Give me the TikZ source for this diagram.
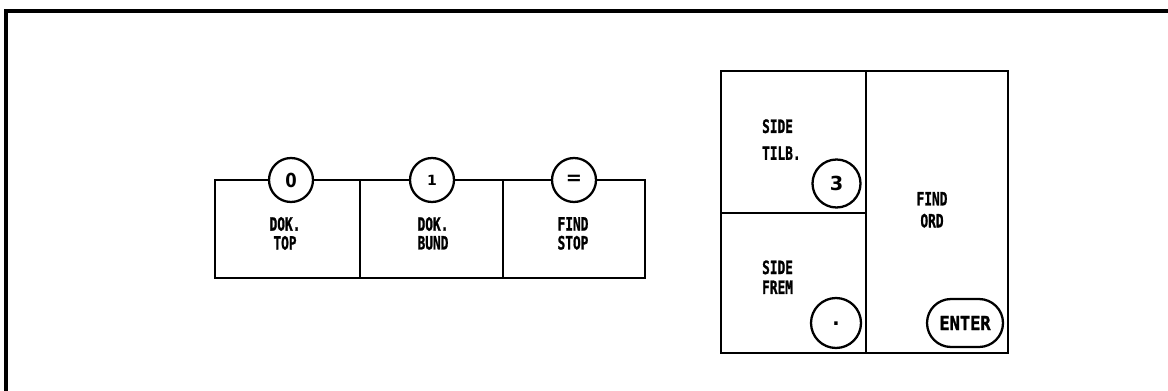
\documentclass[tikz,border=0pt]{standalone}
\usepackage{fontspec}
\newfontfamily\kf{DejaVu Sans Mono}[FakeBold=1.5]
\newfontfamily\kd{DejaVu Sans}
\newcommand\kt[2][10.2pt]{\scalebox{0.7}[1]{\kf\bfseries\fontsize{10.4}{#1}\selectfont\begin{tabular}{@{}c@{}}#2\end{tabular}}}
\newcommand\ktl[2][10.2pt]{\scalebox{0.7}[1]{\kf\bfseries\fontsize{10.4}{#1}\selectfont\begin{tabular}{@{}l@{}}#2\end{tabular}}}
\begin{document}
\begin{tikzpicture}[x=0.02cm,y=-0.02cm,line width=1.3pt,
  box/.style={draw,inner sep=0pt,outer sep=0pt},
  keyc/.style={circle,draw,fill=white,inner sep=0pt,font=\kd\bfseries\fontsize{11}{11}\selectfont},
  lbl/.style={inner sep=0pt}]
\useasboundingbox (0,0) rectangle (1168,391);
% frame
\coordinate (fb) at (6,391);
\coordinate (ftl) at (6,11);
\coordinate (ftr) at (1168,11);
\draw[line width=1.8pt] (fb) -- (ftl) -- (ftr);
% left keys
\node[box,minimum width=2.9cm,minimum height=1.96cm] (b0) at (287.5,229) {};
\node[box,minimum width=2.86cm,minimum height=1.96cm] (b1) at (431.5,229) {};
\node[box,minimum width=2.84cm,minimum height=1.96cm] (b2) at (574,229) {};
\node[keyc,minimum size=0.88cm] (c0) at (291,180) {\scalebox{0.85}[1]{0}};
\node[keyc,minimum size=0.88cm] (c1) at (432,180) {\fontsize{8}{8}\selectfont 1};
\node[keyc,minimum size=0.88cm] (c2) at (574,180) {=};
\node[lbl] (t0) at (285,236) {\kt{DOK.\\TOP}};
\node[lbl] (t1) at (433,236) {\kt{DOK.\\BUND}};
\node[lbl] (t2) at (573,236) {\kt{FIND\\STOP}};
% right keys
\node[box,minimum width=2.9cm,minimum height=2.84cm] (r0) at (793.5,142) {};
\node[box,minimum width=2.9cm,minimum height=2.8cm] (r1) at (793.5,283) {};
\node[box,minimum width=2.84cm,minimum height=5.64cm] (r2) at (937,212) {};
\node[lbl,anchor=west] (s0) at (761,141) {\ktl[15.3pt]{SIDE\\TILB.}};
\node[lbl,anchor=west] (s1) at (761,280) {\ktl[11.3pt]{SIDE\\FREM}};
\node[lbl] (s2) at (932,212) {\kt[12.5pt]{FIND\\ORD}};
\node[keyc,minimum size=0.96cm] (c3) at (836.5,183.5) {3};
\node[keyc,minimum size=1.0cm] (c4) at (836,323) {\raisebox{-0.08cm}{.}};
\node[draw,fill=white,rounded corners=0.48cm,minimum width=1.52cm,minimum height=0.96cm,inner sep=0pt,
  font=\kf\bfseries\fontsize{11}{11}\selectfont] (c5) at (965,323) {\scalebox{0.88}[1]{ENTER}};
\end{tikzpicture}
\end{document}
